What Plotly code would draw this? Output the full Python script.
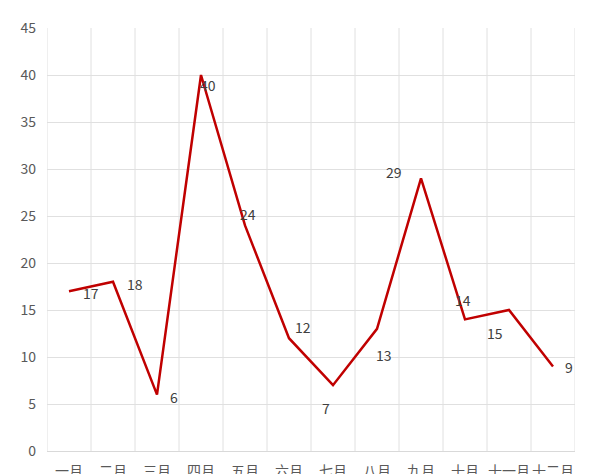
import plotly.graph_objects as go

months = ["一月", "二月", "三月", "四月", "五月", "六月", "七月", "八月", "九月", "十月", "十一月", "十二月"]
values = [17, 18, 6, 40, 24, 12, 7, 13, 29, 14, 15, 9]

# label offsets (px) for each data label
label_dx = [22, 22, 17, 7, 3, 14, -7, 7, -27, -2, -14, 16]
label_dy = [-2, -2, -2, -10, 11, 11, -23, -26, 6, 19, -23, -1]

fig = go.Figure()
fig.add_trace(go.Scatter(
    x=months, y=values, mode="lines",
    line=dict(color="#C00000", width=2.5),
    hoverinfo="x+y", showlegend=False,
))

for m, v, dx, dy in zip(months, values, label_dx, label_dy):
    fig.add_annotation(x=m, y=v, text=str(v), showarrow=False,
                       xshift=dx, yshift=dy,
                       font=dict(size=14, color="#404040"))

font_family = "Noto Sans CJK SC, Microsoft YaHei, sans-serif"
fig.update_layout(
    width=600, height=474,
    margin=dict(l=47, r=25, t=28, b=23),
    paper_bgcolor="white", plot_bgcolor="white",
    font=dict(family=font_family, size=14, color="#595959"),
    xaxis=dict(
        type="category",
        showgrid=False, automargin=False,
        showline=True, linecolor="#D9D9D9", linewidth=1,
        ticks="", ticklabelstandoff=7, tickangle=0,
        tickfont=dict(size=14, color="#595959"),
        range=[-0.5, 11.5],
    ),
    yaxis=dict(
        range=[0, 45], dtick=5, automargin=False,
        showgrid=True, gridcolor="#E0E0E0", gridwidth=1,
        zeroline=False,
        showline=False,
        ticks="", ticklabelstandoff=10,
        tickfont=dict(size=14, color="#595959"),
    ),
)

# vertical gridlines at category boundaries
for i in range(13):
    fig.add_shape(type="line", xref="x", yref="paper",
                  x0=i - 0.5, x1=i - 0.5, y0=0, y1=1,
                  line=dict(color="#E0E0E0", width=1), layer="below")

fig.write_html(
    "out.html",
    config={"displayModeBar": False},
    post_script="document.body.style.margin='0';document.body.style.overflow='hidden';",
)
